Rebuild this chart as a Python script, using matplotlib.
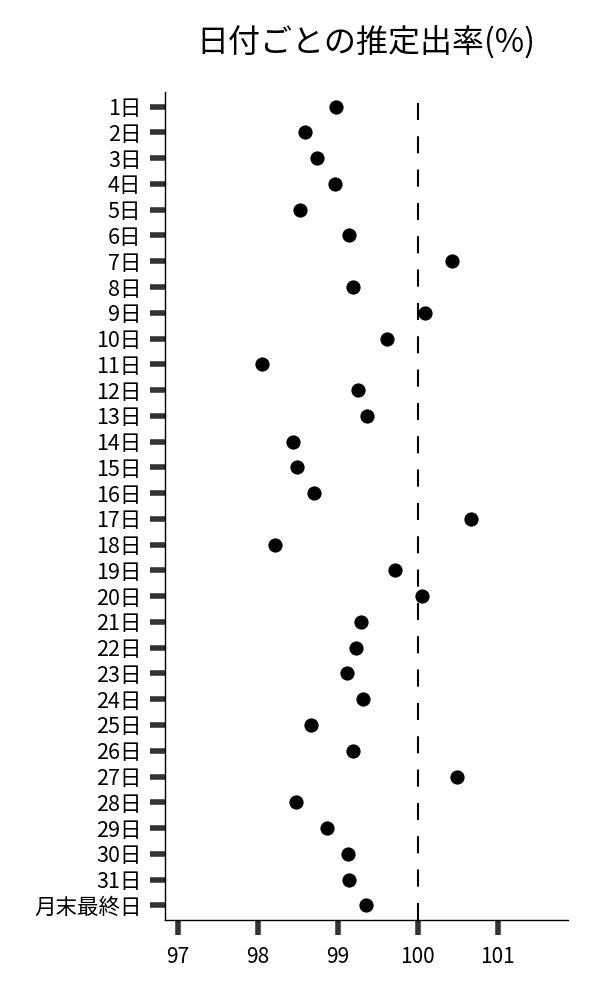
import matplotlib
matplotlib.use("Agg")
import matplotlib.pyplot as plt
import numpy as np

plt.rcParams['font.family'] = ['Noto Sans CJK JP', 'DejaVu Sans']

labels = [f"{d}日" for d in range(1, 32)] + ["月末最終日"]
rates = [98.98, 98.59, 98.74, 98.96, 98.53, 99.14, 100.43, 99.19, 100.09, 99.61,
         98.05, 99.25, 99.36, 98.44, 98.49, 98.70, 100.66, 98.21, 99.71, 100.05,
         99.29, 99.23, 99.11, 99.31, 98.66, 99.19, 100.49, 98.48, 98.86, 99.13,
         99.14, 99.35]
x_ticks = [97, 98, 99, 100, 101]
ref_line = 100

fig = plt.figure(figsize=(6, 10), dpi=100)
ax = fig.add_axes([0.275, 0.08, 0.672, 0.828])

y = np.arange(len(labels))
ax.scatter(rates, y, s=105, color='black', linewidths=0, zorder=3)
ax.axvline(ref_line, color='black', linestyle=(0, (8.2, 7.8)), linewidth=1.5, zorder=2)

ax.set_yticks(y)
ax.set_yticklabels(labels, fontsize=15.5)
ax.set_ylim(len(labels) - 0.43, -0.57)
ax.set_xticks(x_ticks)
ax.set_xticklabels([str(t) for t in x_ticks], fontsize=15)
ax.set_xlim(96.84, 101.88)

ax.tick_params(axis='both', length=11, width=4, color='#333333')
ax.tick_params(axis='y', pad=6)
ax.tick_params(axis='x', pad=8)
for s in ['top', 'right']:
    ax.spines[s].set_visible(False)
for s in ['left', 'bottom']:
    ax.spines[s].set_linewidth(1.0)

fig.text(0.61, 0.957, '日付ごとの推定出率(%)', fontsize=23, ha='center', va='center')

fig.savefig('out.png', dpi=100)
